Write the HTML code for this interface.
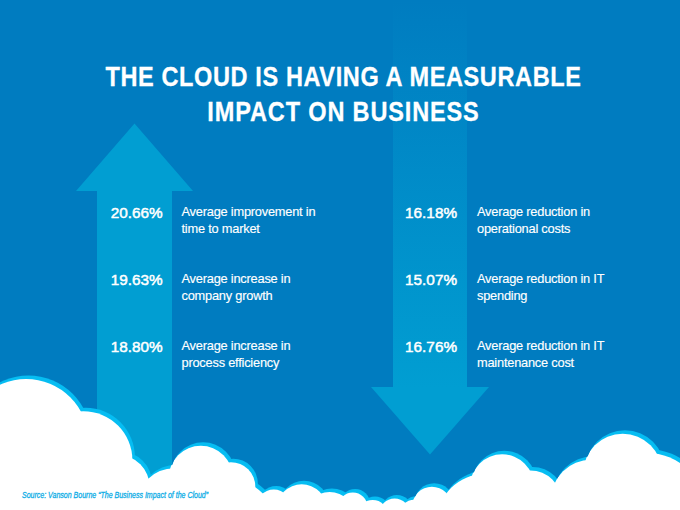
<!DOCTYPE html>
<html><head><meta charset="utf-8">
<style>
html,body{margin:0;padding:0}
body{width:680px;height:510px;position:relative;overflow:hidden;background:#007cc0;font-family:"Liberation Sans",sans-serif;color:#fff}
svg{position:absolute;left:0;top:0}
.t{position:absolute;white-space:nowrap;font-weight:bold;font-size:28px;line-height:28px;transform-origin:50% 50%;-webkit-text-stroke:0.3px #fff}
.n{position:absolute;white-space:nowrap;font-weight:normal;font-size:15.3px;line-height:16px;letter-spacing:0;-webkit-text-stroke:0.5px #fff;text-align:right;width:80px}
.d{position:absolute;white-space:nowrap;font-size:12.8px;line-height:17px;letter-spacing:-0.21px;-webkit-text-stroke:0.15px #fff}
.src{position:absolute;white-space:nowrap;font-style:italic;font-size:8.66px;line-height:10px;color:#0dade6;-webkit-text-stroke:0.3px #0dade6;transform-origin:0 0}
</style></head><body>
<svg width="680" height="510" viewBox="0 0 680 510">
<defs><linearGradient id="g" x1="0" y1="0" x2="0" y2="388" gradientUnits="userSpaceOnUse">
<stop offset="0" stop-color="#019ed2" stop-opacity="0"/><stop offset="1" stop-color="#019ed2" stop-opacity="1"/></linearGradient></defs>
<polygon points="134.5,123.5 193,191 172,191 172,510 97,510 97,191 76,191" fill="#019ed2"/>
<rect x="393" y="0" width="74" height="388" fill="url(#g)"/>
<polygon points="371,387 489,387 430,454.5" fill="#019ed2"/>
<clipPath id="cc"><circle cx="28.4" cy="438.1" r="62.6"/><circle cx="85.6" cy="457.0" r="49.3"/><circle cx="119.9" cy="483.7" r="32.3"/><circle cx="176.6" cy="502.7" r="38.0"/><circle cx="203.1" cy="474.6" r="32.3"/><circle cx="233.2" cy="483.3" r="24.6"/><circle cx="216.1" cy="541.3" r="71.1"/><circle cx="276.1" cy="504.3" r="18.3"/><circle cx="304.0" cy="506.0" r="25.2"/><circle cx="331.9" cy="514.6" r="26.0"/><circle cx="355.1" cy="503.9" r="14.9"/><circle cx="375.0" cy="512.0" r="15.4"/><circle cx="396.9" cy="510.5" r="15.6"/><circle cx="416.6" cy="511.3" r="15.0"/><circle cx="434.2" cy="503.3" r="20.0"/><circle cx="486.6" cy="517.6" r="47.0"/><circle cx="504.4" cy="483.0" r="32.2"/><circle cx="532.6" cy="498.3" r="31.4"/><circle cx="593.5" cy="496.6" r="40.4"/><circle cx="625.0" cy="469.8" r="39.6"/><circle cx="649.4" cy="507.7" r="58.3"/><polygon points="0,510 0,440 28.4,438.1 85.6,457.0 119.9,483.7 176.6,502.7 203.1,474.6 233.2,483.3 216.1,541.3 276.1,504.3 304.0,506.0 331.9,514.6 355.1,503.9 375.0,512.0 396.9,510.5 416.6,511.3 434.2,503.3 486.6,517.6 504.4,483.0 532.6,498.3 593.5,496.6 625.0,469.8 649.4,507.7 680,507.7 680,510"/></clipPath>
<g fill="#06bdf2"><circle cx="28.4" cy="438.1" r="62.6"/><circle cx="85.6" cy="457.0" r="49.3"/><circle cx="119.9" cy="483.7" r="32.3"/><circle cx="176.6" cy="502.7" r="38.0"/><circle cx="203.1" cy="474.6" r="32.3"/><circle cx="233.2" cy="483.3" r="24.6"/><circle cx="216.1" cy="541.3" r="71.1"/><circle cx="276.1" cy="504.3" r="18.3"/><circle cx="304.0" cy="506.0" r="25.2"/><circle cx="331.9" cy="514.6" r="26.0"/><circle cx="355.1" cy="503.9" r="14.9"/><circle cx="375.0" cy="512.0" r="15.4"/><circle cx="396.9" cy="510.5" r="15.6"/><circle cx="416.6" cy="511.3" r="15.0"/><circle cx="434.2" cy="503.3" r="20.0"/><circle cx="486.6" cy="517.6" r="47.0"/><circle cx="504.4" cy="483.0" r="32.2"/><circle cx="532.6" cy="498.3" r="31.4"/><circle cx="593.5" cy="496.6" r="40.4"/><circle cx="625.0" cy="469.8" r="39.6"/><circle cx="649.4" cy="507.7" r="58.3"/><polygon points="0,510 0,440 28.4,438.1 85.6,457.0 119.9,483.7 176.6,502.7 203.1,474.6 233.2,483.3 216.1,541.3 276.1,504.3 304.0,506.0 331.9,514.6 355.1,503.9 375.0,512.0 396.9,510.5 416.6,511.3 434.2,503.3 486.6,517.6 504.4,483.0 532.6,498.3 593.5,496.6 625.0,469.8 649.4,507.7 680,507.7 680,510"/></g>
<g fill="#fff" clip-path="url(#cc)"><circle cx="26.1" cy="441.4" r="62.4"/><circle cx="83.3" cy="460.3" r="49.1"/><circle cx="117.6" cy="487.0" r="32.1"/><circle cx="174.3" cy="506.0" r="37.8"/><circle cx="200.8" cy="477.9" r="32.1"/><circle cx="230.9" cy="486.6" r="24.4"/><circle cx="213.8" cy="544.6" r="70.9"/><circle cx="273.8" cy="507.6" r="18.1"/><circle cx="301.7" cy="509.3" r="25.0"/><circle cx="329.6" cy="517.9" r="25.8"/><circle cx="352.8" cy="507.2" r="14.7"/><circle cx="372.7" cy="515.3" r="15.2"/><circle cx="394.6" cy="513.8" r="15.4"/><circle cx="414.3" cy="514.6" r="14.8"/><circle cx="431.9" cy="506.6" r="19.8"/><circle cx="484.3" cy="520.9" r="46.8"/><circle cx="502.1" cy="486.3" r="32.0"/><circle cx="530.3" cy="501.6" r="31.2"/><circle cx="591.2" cy="499.9" r="40.2"/><circle cx="622.7" cy="473.1" r="39.4"/><circle cx="647.1" cy="511.0" r="58.1"/><polygon points="0,510 0,445 26.1,441.4 83.3,460.3 117.6,487.0 174.3,506.0 200.8,477.9 230.9,486.6 213.8,544.6 273.8,507.6 301.7,509.3 329.6,517.9 352.8,507.2 372.7,515.3 394.6,513.8 414.3,514.6 431.9,506.6 484.3,520.9 502.1,486.3 530.3,501.6 591.2,499.9 622.7,473.1 647.1,511.0 680,511 680,510"/></g>
</svg>
<div class="t" id="t1" style="left:0.6px;width:685px;text-align:center;top:63.3px;letter-spacing:0.73px;transform:scaleX(0.84)">THE CLOUD IS HAVING A MEASURABLE</div>
<div class="t" id="t2" style="left:0.2px;width:687px;text-align:center;top:98px;letter-spacing:1.01px;transform:scaleX(0.84)">IMPACT ON BUSINESS</div>
<div class="n" style="left:82.6px;top:205px">20.66%</div>
<div class="n" style="left:82.6px;top:272px">19.63%</div>
<div class="n" style="left:82.6px;top:339px">18.80%</div>
<div class="n" style="left:377px;top:205px">16.18%</div>
<div class="n" style="left:377px;top:272px">15.07%</div>
<div class="n" style="left:377px;top:339px">16.76%</div>
<div class="d" style="left:181.5px;top:203.4px">Average improvement in<br>time to market</div>
<div class="d" style="left:181.5px;top:270.4px">Average increase in<br>company growth</div>
<div class="d" style="left:181.5px;top:337.4px">Average increase in<br>process efficiency</div>
<div class="d" style="left:477px;top:203.4px">Average reduction in<br>operational costs</div>
<div class="d" style="left:477px;top:270.4px">Average reduction in IT<br>spending</div>
<div class="d" style="left:477px;top:337.4px">Average reduction in IT<br>maintenance cost</div>
<div class="src" style="left:21.5px;top:490px;transform:scaleX(0.81)">Source: Vanson Bourne “The Business Impact of the Cloud”</div>
</body></html>
